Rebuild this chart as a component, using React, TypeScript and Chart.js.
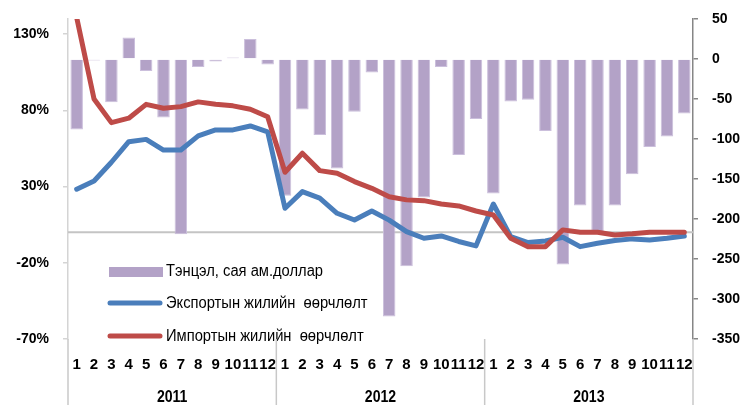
import React, { useEffect, useRef } from 'react';
import { Chart, registerables } from 'chart.js';
Chart.register(...registerables);

const months = ['1', '2', '3', '4', '5', '6', '7', '8', '9', '10', '11', '12'];
const years = ['2011', '2012', '2013'];

// Trade balance, mln USD (right axis)
const balance = [
  -88, -2, -54, 27, -15, -73, -219, -10, -3, 2, 25, -7,
  -171, -63, -95, -137, -66, -17, -322, -259, -173, -10, -120, -75,
  -168, -53, -51, -90, -257, -183, -218, -183, -144, -110, -97, -68,
];
// Export annual change, % (left axis)
const exportGrowth = [
  28.3, 33.7, 46, 59.5, 61, 54, 54, 63.3, 67.2, 67.2, 69.8, 66,
  15.8, 26.7, 22.4, 12.5, 8.1, 14, 8, 0.5, -3.9, -2.4, -6, -8.9,
  18.6, -2.8, -6.7, -5.7, -3.2, -9.4, -7.2, -5.4, -4.3, -5, -3.9, -2.4,
];
// Import annual change, % (left axis)
const importGrowth = [
  141, 87.5, 72, 74.9, 84, 81.4, 82.5, 85.6, 84, 83, 80.8, 75.9,
  39.4, 51.9, 40.5, 38.8, 33.3, 28.9, 23.4, 21.3, 20.8, 18.6, 17.3, 14,
  11.4, -3.9, -9.4, -9.4, 1.6, 0, 0, -1.7, -1, 0, 0, 0,
];
const leftTicks = [-70, -20, 30, 80, 130];
const legendBalance = 'Тэнцэл, сая ам.доллар';
const legendExport = 'Экспортын жилийн  өөрчлөлт';
const legendImport = 'Импортын жилийн  өөрчлөлт';

const FONT = "'Liberation Sans', Arial, sans-serif";
const BAR = '#B3A2C7';
const BLUE = '#4A7EBB';
const RED = '#BE4B48';

const zeroLine = {
  id: 'zeroLine',
  beforeDatasetsDraw(chart: any) {
    const { ctx, chartArea } = chart;
    const y = chart.scales.y.getPixelForValue(0);
    ctx.save();
    ctx.strokeStyle = '#c4c4c4';
    ctx.lineWidth = 2;
    ctx.beginPath();
    ctx.moveTo(chartArea.left, y);
    ctx.lineTo(chartArea.right, y);
    ctx.stroke();
    ctx.restore();
  },
};

const yearAxis = {
  id: 'yearAxis',
  afterDraw(chart: any) {
    const { ctx, chartArea } = chart;
    const n = months.length * years.length;
    const w = (chartArea.right - chartArea.left) / n;
    ctx.save();
    ctx.strokeStyle = '#c8c8c8';
    ctx.lineWidth = 1.5;
    for (let k = 0; k <= years.length; k++) {
      const x = chartArea.left + k * months.length * w;
      ctx.beginPath();
      ctx.moveTo(x, chartArea.bottom);
      ctx.lineTo(x, chart.height);
      ctx.stroke();
    }
    ctx.fillStyle = '#000';
    ctx.font = `bold 16px ${FONT}`;
    ctx.textAlign = 'center';
    ctx.textBaseline = 'middle';
    years.forEach((yr, k) => {
      const x = chartArea.left + (k + 0.5) * months.length * w;
      ctx.save();
      ctx.translate(x, chartArea.bottom + 59);
      ctx.scale(0.88, 1);
      ctx.fillText(yr, 0, 0);
      ctx.restore();
    });
    ctx.restore();
  },
};

const legendBox = {
  id: 'legendBox',
  afterDatasetsDraw(chart: any) {
    const { ctx } = chart;
    ctx.save();
    ctx.fillStyle = BAR;
    ctx.fillRect(109, 267, 54, 10);
    ctx.lineCap = 'round';
    ctx.lineWidth = 5;
    ctx.strokeStyle = BLUE;
    ctx.beginPath();
    ctx.moveTo(110, 303);
    ctx.lineTo(160, 303);
    ctx.stroke();
    ctx.strokeStyle = RED;
    ctx.beginPath();
    ctx.moveTo(110, 336);
    ctx.lineTo(160, 336);
    ctx.stroke();
    ctx.fillStyle = '#000';
    ctx.font = `16px ${FONT}`;
    ctx.textAlign = 'left';
    ctx.textBaseline = 'middle';
    const rows: [string, number][] = [[legendBalance, 272], [legendExport, 304], [legendImport, 337]];
    rows.forEach(([t, y]) => {
      ctx.save();
      ctx.translate(166, y);
      ctx.scale(0.92, 1);
      ctx.fillText(t, 0, 0);
      ctx.restore();
    });
    ctx.restore();
  },
};

export default function App() {
  const ref = useRef<HTMLCanvasElement>(null);
  useEffect(() => {
    document.body.style.margin = '0';
    const labels = years.flatMap(() => months);
    const tickFont = { family: FONT, size: 14, weight: 'bold' as const };
    const catFont = { family: FONT, size: 15, weight: 'bold' as const };
    const chart = new Chart(ref.current!, {
      type: 'bar',
      data: {
        labels,
        datasets: [
          {
            type: 'bar',
            label: legendBalance,
            data: balance,
            yAxisID: 'y1',
            backgroundColor: BAR,
            borderColor: '#cbbfdc',
            borderWidth: 1,
            barPercentage: 0.72,
            categoryPercentage: 1,
            order: 3,
          },
          {
            type: 'line',
            label: legendExport,
            data: exportGrowth,
            yAxisID: 'y',
            borderColor: BLUE,
            backgroundColor: BLUE,
            borderWidth: 5,
            pointRadius: 0,
            tension: 0,
            borderJoinStyle: 'round',
            borderCapStyle: 'round',
            order: 2,
          },
          {
            type: 'line',
            label: legendImport,
            data: importGrowth,
            yAxisID: 'y',
            borderColor: RED,
            backgroundColor: RED,
            borderWidth: 5,
            pointRadius: 0,
            tension: 0,
            borderJoinStyle: 'round',
            borderCapStyle: 'round',
            order: 1,
          },
        ] as any,
      },
      options: {
        responsive: false,
        animation: false,
        layout: { padding: { top: 19, left: 0, right: 0, bottom: 0 } },
        plugins: { legend: { display: false }, tooltip: { enabled: false } },
        scales: {
          x: {
            grid: { display: false, drawTicks: false },
            border: { display: false },
            ticks: {
              autoSkip: false,
              maxRotation: 0,
              minRotation: 0,
              padding: 17,
              color: '#000',
              font: catFont,
            },
            afterFit: (s: any) => { s.height = 66; s.paddingLeft = 0; s.paddingRight = 0; },
          },
          y: {
            position: 'left',
            min: -70,
            max: 140,
            afterBuildTicks: (s: any) => { s.ticks = leftTicks.map((v) => ({ value: v })); },
            ticks: {
              callback: (v: any) => v + '%',
              padding: 14,
              color: '#000',
              font: tickFont,
            },
            grid: { drawOnChartArea: false, drawTicks: true, tickLength: 5, color: '#d4d4d4', lineWidth: 1.5 },
            border: { color: '#d4d4d4', width: 1.5 },
            afterFit: (s: any) => { s.width = 68; s.paddingTop = 0; s.paddingBottom = 0; },
          },
          y1: {
            position: 'right',
            min: -350,
            max: 50,
            ticks: { stepSize: 50, padding: 14, color: '#000', font: tickFont },
            grid: { drawOnChartArea: false, drawTicks: true, tickLength: 5, color: '#868686', lineWidth: 1.5 },
            border: { color: '#868686', width: 1.5 },
            afterFit: (s: any) => { s.width = 48; s.paddingTop = 0; s.paddingBottom = 0; },
          },
        },
      } as any,
      plugins: [zeroLine, yearAxis, legendBox],
    });
    return () => chart.destroy();
  }, []);
  return (
    <div style={{ width: 741, height: 405 }}>
      <canvas ref={ref} width={741} height={405} style={{ display: 'block' }} />
    </div>
  );
}
